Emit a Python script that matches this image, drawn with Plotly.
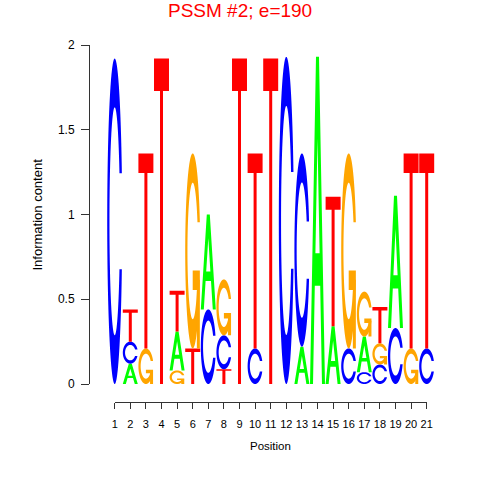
import numpy as np
import plotly.graph_objects as go

# ---- data (information content per letter at each position) ----
positions = list(range(1, 22))
A = [0, 0.12, 0, 0, 0.23, 0, 0.56, 0, 0, 0, 0, 0, 0.22, 1.93, 0.34, 0, 0.21, 0, 0.78, 0, 0]
C = [1.92, 0.13, 0, 0, 0, 0, 0.44, 0.20, 0, 0.21, 0, 1.93, 1.14, 0, 0, 0.21, 0.07, 0.115, 0.33, 0, 0.21]
G = [0, 0, 0.21, 0, 0.08, 1.15, 0, 0.33, 0, 0, 0, 0, 0, 0, 0, 1.15, 0.265, 0.125, 0, 0.21, 0]
T = [0, 0.19, 1.15, 1.92, 0.24, 0.21, 0, 0.087, 1.92, 1.15, 1.92, 0, 0, 0, 0.765, 0, 0, 0.215, 0, 1.15, 1.15]
y_ticks = [0, 0.5, 1, 1.5, 2]
y_tick_labels = ["0", "0.5", "1", "1.5", "2"]
title_text = "PSSM #2; e=190"

colors = {"A": "#00FF00", "C": "#0000FF", "G": "#FFA500", "T": "#FF0000"}


def c_outline():
    a1 = np.linspace(0.3 + np.pi / 2, np.pi, 100)
    a2 = np.linspace(np.pi, 1.5 * np.pi, 100)
    xl1 = 0.5 + 0.5 * np.sin(a1); yl1 = 0.5 + 0.5 * np.cos(a1)
    xl2 = 0.5 + 0.5 * np.sin(a2); yl2 = 0.5 + 0.5 * np.cos(a2)
    xl = np.concatenate([xl1, xl2]); yl = np.concatenate([yl1, yl2])
    x = np.concatenate([xl, xl[::-1]]); y = np.concatenate([yl, 1 - yl[::-1]])
    xi1 = 0.5 + 0.35 * np.sin(a1); yi1 = 0.5 + 0.35 * np.cos(a1)
    m = yi1 <= yl1.max()
    xi1 = xi1[m]; yi1 = yi1[m].copy(); yi1[0] = yl1.max()
    xi2 = 0.5 + 0.35 * np.sin(a2); yi2 = 0.5 + 0.35 * np.cos(a2)
    xi = np.concatenate([xi1, xi2]); yi = np.concatenate([yi1, yi2])
    x1 = np.concatenate([xi, xi[::-1]]); y1 = np.concatenate([yi, 1 - yi[::-1]])
    xx = np.concatenate([x, x1[::-1]]); yy = np.concatenate([y, y1[::-1]])
    return list(zip(xx, yy)), xl1.max()


def glyph(letter):
    """list of shapes; each shape = (list of subpolygons, fillrule)"""
    if letter == "A":
        outer = [(0, 0), (0.4, 1), (0.6, 1), (1, 0), (0.8, 0), (0.68, 0.3), (0.32, 0.3), (0.2, 0)]
        hole = [(0.36, 0.4), (0.5, 0.75), (0.64, 0.4)]
        return [([outer, hole], "evenodd")]
    if letter == "T":
        return [([[(0, 1), (1, 1), (1, 0.9), (0.6, 0.9), (0.6, 0), (0.4, 0), (0.4, 0.9), (0, 0.9)]], "nonzero")]
    ring, r1 = c_outline()
    if letter == "C":
        return [([ring], "nonzero")]
    h1 = 0.4
    add = [(r1, h1), (0.5, h1), (0.5, h1 - 0.1), (r1 - 0.2, h1 - 0.1), (r1 - 0.2, 0), (r1, 0)]
    return [([ring], "nonzero"), ([add], "nonzero")]


glyph_cache = {k: glyph(k) for k in "ACGT"}
letter_w = 0.96

shapes = []
heights = {"A": A, "C": C, "G": G, "T": T}
for i, p in enumerate(positions):
    items = [(heights[k][i], k) for k in "ACGT" if heights[k][i] > 0]
    items.sort(key=lambda t: t[0])
    base = 0.0
    x0 = p - letter_w / 2
    for h, k in items:
        for polys, rule in glyph_cache[k]:
            parts = []
            for poly in polys:
                pts = [f"{x0 + letter_w * ux:.4f},{base + h * uy:.4f}" for ux, uy in poly]
                parts.append("M " + " L ".join(pts) + " Z")
            shapes.append(dict(type="path", xref="x", yref="y", path=" ".join(parts),
                               fillcolor=colors[k], line=dict(width=0), fillrule=rule,
                               layer="above"))
        base += h

fig = go.Figure()
fig.add_trace(go.Scatter(x=[positions[0], positions[-1]], y=[0, 0], xaxis="x", yaxis="y",
                         mode="markers", marker=dict(opacity=0), hoverinfo="skip", showlegend=False))
fig.add_trace(go.Scatter(x=[positions[0], positions[-1]], y=[0, 0], xaxis="x2", yaxis="y",
                         mode="markers", marker=dict(opacity=0), hoverinfo="skip", showlegend=False))

W = H = 480
px0, pstep = 114.7, 15.6
dl, dr = 90, 450
font = "Liberation Sans, Arial, Helvetica, sans-serif"

fig.update_layout(
    width=W, height=H, margin=dict(l=0, r=0, t=0, b=0, autoexpand=False),
    paper_bgcolor="white", plot_bgcolor="white", showlegend=False,
    font=dict(family=font, color="black"),
    shapes=shapes,
    xaxis=dict(domain=[dl / W, dr / W],
               range=[1 + (dl - px0) / pstep, 1 + (dr - px0) / pstep],
               visible=False, fixedrange=True),
    xaxis2=dict(domain=[px0 / W, (px0 + 20 * pstep) / W], range=[1, 21],
                anchor="free", position=(H - 402) / H, side="bottom",
                showline=True, linecolor="#333", linewidth=1,
                ticks="outside", ticklen=6, tickcolor="#333", tickwidth=1,
                tickvals=positions, ticktext=[str(p) for p in positions],
                ticklabelstandoff=6,
                tickfont=dict(size=11, family=font, color="black"),
                showgrid=False, zeroline=False, fixedrange=True),
    yaxis=dict(domain=[(H - 384) / H, (H - 45) / H], range=[0, 2], anchor="x",
               showline=True, linecolor="#333", linewidth=1,
               ticks="outside", ticklen=8, tickcolor="#333", tickwidth=1,
               tickvals=y_ticks, ticktext=y_tick_labels, ticklabelstandoff=4,
               tickfont=dict(size=12, family=font, color="black"),
               showgrid=False, zeroline=False, fixedrange=True),
    annotations=[
        dict(text=title_text, xref="paper", yref="paper", x=240 / W, y=1 - 10 / H,
             xanchor="center", yanchor="middle", showarrow=False,
             font=dict(size=19, color="#FF0000", family=font)),
        dict(text="Position", xref="paper", yref="paper", x=270.7 / W, y=1 - 446 / H,
             xanchor="center", yanchor="middle", showarrow=False,
             font=dict(size=11.5, color="black", family=font)),
        dict(text="Information content", xref="paper", yref="paper", x=37 / W, y=1 - 214.5 / H,
             xanchor="center", yanchor="middle", showarrow=False, textangle=-90,
             font=dict(size=13, color="black", family=font)),
    ],
)

fig.write_html("out.html", config={"displayModeBar": False},
               post_script=("document.documentElement.style.margin='0px';"
                            "document.documentElement.style.overflow='hidden';"
                            "document.body.style.margin='0px';"
                            "document.body.style.overflow='hidden';"))
